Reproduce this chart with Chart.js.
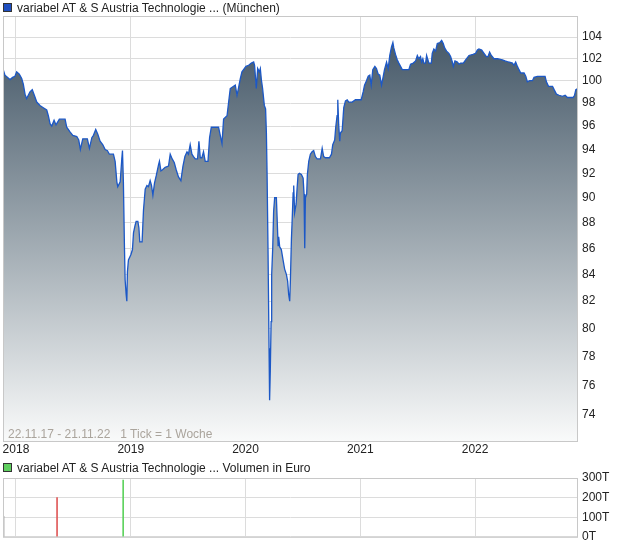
<!DOCTYPE html>
<html><head><meta charset="utf-8">
<script src="https://cdn.jsdelivr.net/npm/chart.js@4/dist/chart.umd.min.js"></script>
<style>
body{margin:0;background:#fff;width:620px;height:546px;overflow:hidden;font-family:"Liberation Sans",Arial,sans-serif;}
#wrap{position:relative;width:620px;height:546px;overflow:hidden;}
canvas{position:absolute;left:0;}
#c1{top:0;}
#c2{top:460px;}
.leg{position:absolute;left:3px;font-size:12px;color:#222;line-height:14px;white-space:nowrap;z-index:2;}
.leg i{display:inline-block;width:7px;height:7px;border:1px solid #333;margin-right:5px;vertical-align:0px;}
#info{position:absolute;left:8px;top:427px;font-size:12px;color:#aaa49c;white-space:nowrap;z-index:2;}
</style></head>
<body><div id="wrap">
<canvas id="c1" width="620" height="460"></canvas>
<canvas id="c2" width="620" height="88"></canvas>
<div class="leg" style="top:1px;"><i style="background:#1f4fc0"></i>variabel AT &amp; S Austria Technologie ... (München)</div>
<div id="info">22.11.17 - 21.11.22&nbsp;&nbsp;&nbsp;1 Tick = 1 Woche</div>
<div class="leg" style="top:461px;"><i style="background:#5fcf5f"></i>variabel AT &amp; S Austria Technologie ... Volumen in Euro</div>
</div>
<script>
// decimal years
const dates = [2017.889,2017.904,2017.948,2017.971,2017.991,2018.006,2018.029,2018.050,2018.064,2018.079,2018.093,2018.107,2018.122,2018.142,2018.160,2018.181,2018.209,2018.238,2018.268,2018.282,2018.297,2018.312,2018.332,2018.349,2018.378,2018.428,2018.442,2018.471,2018.495,2018.530,2018.547,2018.561,2018.582,2018.622,2018.640,2018.661,2018.675,2018.695,2018.713,2018.733,2018.757,2018.777,2018.797,2018.814,2018.849,2018.864,2018.879,2018.887,2018.908,2018.922,2018.928,2018.936,2018.945,2018.951,2018.960,2018.966,2018.971,2018.980,2019.001,2019.015,2019.024,2019.038,2019.047,2019.062,2019.071,2019.079,2019.099,2019.111,2019.126,2019.141,2019.154,2019.169,2019.181,2019.193,2019.207,2019.222,2019.242,2019.250,2019.263,2019.277,2019.300,2019.329,2019.344,2019.361,2019.379,2019.396,2019.416,2019.437,2019.455,2019.472,2019.490,2019.503,2019.518,2019.533,2019.547,2019.562,2019.582,2019.594,2019.606,2019.620,2019.634,2019.649,2019.673,2019.687,2019.702,2019.765,2019.780,2019.795,2019.809,2019.839,2019.853,2019.867,2019.896,2019.911,2019.926,2019.940,2019.955,2019.969,2019.983,2020.004,2020.027,2020.051,2020.071,2020.079,2020.094,2020.106,2020.120,2020.129,2020.138,2020.149,2020.164,2020.175,2020.182,2020.188,2020.196,2020.205,2020.210,2020.216,2020.223,2020.228,2020.237,2020.245,2020.254,2020.269,2020.275,2020.284,2020.289,2020.298,2020.312,2020.327,2020.341,2020.356,2020.367,2020.376,2020.385,2020.391,2020.400,2020.406,2020.415,2020.420,2020.428,2020.441,2020.449,2020.458,2020.469,2020.487,2020.502,2020.510,2020.516,2020.522,2020.533,2020.539,2020.551,2020.565,2020.580,2020.594,2020.609,2020.624,2020.653,2020.668,2020.681,2020.696,2020.731,2020.749,2020.760,2020.777,2020.786,2020.798,2020.804,2020.812,2020.821,2020.827,2020.842,2020.856,2020.871,2020.886,2020.900,2020.929,2020.958,2021.008,2021.025,2021.037,2021.054,2021.069,2021.083,2021.095,2021.109,2021.127,2021.141,2021.156,2021.170,2021.185,2021.200,2021.211,2021.229,2021.243,2021.257,2021.272,2021.284,2021.292,2021.307,2021.322,2021.336,2021.351,2021.366,2021.423,2021.438,2021.462,2021.482,2021.497,2021.510,2021.525,2021.534,2021.545,2021.554,2021.569,2021.578,2021.589,2021.598,2021.619,2021.627,2021.641,2021.656,2021.671,2021.694,2021.709,2021.723,2021.735,2021.752,2021.772,2021.787,2021.802,2021.811,2021.825,2021.846,2021.860,2021.874,2021.898,2021.918,2021.947,2021.982,2022.005,2022.020,2022.034,2022.058,2022.078,2022.099,2022.113,2022.127,2022.142,2022.165,2022.195,2022.238,2022.261,2022.291,2022.326,2022.339,2022.354,2022.369,2022.383,2022.398,2022.427,2022.442,2022.456,2022.476,2022.500,2022.514,2022.544,2022.610,2022.622,2022.640,2022.675,2022.689,2022.709,2022.732,2022.762,2022.785,2022.805,2022.854,2022.867,2022.878,2022.895];
const prices = [101.0,100.5,100.1,100.3,100.4,100.8,100.6,100.2,99.7,98.8,98.4,98.7,99.0,99.2,98.7,98.1,97.8,97.6,97.4,96.9,96.2,96.0,96.5,96.1,96.6,96.6,95.9,95.5,95.2,95.1,94.8,94.0,94.9,94.9,94.1,95.0,95.2,95.7,95.3,94.7,94.4,94.0,93.9,93.6,93.6,93.0,91.3,90.9,91.3,93.2,93.9,91.3,86.2,83.6,82.5,82.0,84.2,85.1,85.5,85.9,87.2,87.8,88.1,88.1,87.6,86.5,86.5,89.0,90.7,91.0,90.9,91.4,91.0,90.2,91.2,91.8,92.7,93.0,92.2,92.3,92.5,92.6,93.6,93.2,92.9,92.3,91.7,91.4,92.6,93.4,93.8,93.6,94.4,93.6,93.4,93.2,93.2,94.7,93.3,93.3,93.8,93.0,93.0,95.0,95.9,95.9,95.2,94.5,96.6,96.9,98.1,99.3,99.5,99.6,98.7,99.4,100.2,100.8,101.0,101.3,101.4,101.6,101.7,101.4,99.3,101.1,100.8,101.1,100.1,99.3,97.8,97.5,95.4,91.9,86.0,78.6,75.0,77.0,80.5,84.0,86.0,88.9,90.0,90.0,88.5,86.2,86.9,86.1,85.9,85.1,84.4,84.0,83.5,82.5,82.0,83.5,86.7,88.1,90.4,91.0,88.8,89.5,90.7,91.9,92.0,91.9,91.6,90.3,86.0,90.0,90.3,91.9,93.0,93.6,93.8,93.9,93.4,93.2,93.2,94.1,93.4,93.3,93.3,93.6,94.4,94.8,95.9,96.9,98.3,96.1,94.7,95.4,95.6,97.6,98.2,98.3,98.1,98.1,98.3,98.3,99.0,99.6,100.0,100.4,100.5,99.6,101.0,101.3,101.1,100.6,100.5,99.6,100.4,101.0,101.7,101.1,102.3,103.1,103.5,103.0,102.4,101.9,101.6,101.3,101.0,101.0,101.5,101.6,101.8,102.3,102.0,102.2,101.7,102.0,101.6,101.6,102.3,101.9,101.6,101.6,102.5,102.9,102.7,103.4,103.5,103.7,103.4,103.0,102.7,102.5,102.2,101.7,101.3,101.8,101.7,101.5,101.6,101.6,101.9,102.3,102.4,102.5,102.8,102.9,102.8,102.5,102.2,102.2,102.6,102.3,102.0,102.0,101.9,101.8,101.7,101.6,101.4,101.7,101.3,101.0,100.7,100.7,100.4,99.9,100.0,100.0,100.3,100.4,100.4,99.9,99.5,99.5,99.2,98.8,98.7,98.6,98.7,98.5,98.5,98.7,99.2,99.3];
const priceTicks = [74,76,78,80,82,84,86,88,90,92,94,96,98,100,102,104];
const yearTicks = [2018,2019,2020,2021,2022];
const volDates = [2017.892,2018.358,2018.934];
const volumes = [105,200,290];           // thousand euro
const volColors = ['#a0a0a0','#e05a5a','#5fd35f'];
const volTicks = [0,100,200,300];

const X_MIN = 2017.887, X_MAX = 2022.897;
const GRID = '#dcdcdc', FRAME = '#c8c8c8';
const FONT = {family:'"Liberation Sans", Arial, sans-serif', size:12};

const frame = {id:'frame', afterDraw(c){const a=c.chartArea,x=c.ctx;x.save();x.strokeStyle=FRAME;x.lineWidth=1;x.strokeRect(a.left+0.5,a.top+0.5,a.right-a.left-1,a.bottom-a.top);x.restore();}};

new Chart(document.getElementById('c1'), {
  type:'line',
  data:{datasets:[{
    data: dates.map((d,i)=>({x:d,y:prices[i]})),
    borderColor:'#1c58c6', borderWidth:1.3, pointRadius:0, tension:0,
    fill:'start',
    backgroundColor:(ctx)=>{const a=ctx.chart.chartArea; if(!a) return '#7a8a95';
      const g=ctx.chart.ctx.createLinearGradient(0,a.top,0,a.bottom);
      g.addColorStop(0,'#44576a'); g.addColorStop(0.1,'#4f6170'); g.addColorStop(0.5,'#9aa5ad'); g.addColorStop(1,'#f9fafa'); return g;}
  }]},
  options:{
    responsive:false, animation:false, events:[],
    layout:{padding:{left:3,top:16,right:0,bottom:0}},
    plugins:{legend:{display:false},tooltip:{enabled:false}},
    scales:{
      x:{type:'linear',min:X_MIN,max:X_MAX,
        grid:{color:GRID,drawTicks:false},border:{display:false},
        afterBuildTicks:s=>{s.ticks=yearTicks.map(v=>({value:v}));},
        afterFit:s=>{s.height=19;},
        ticks:{autoSkip:false,maxRotation:0,padding:1,color:'#222',font:FONT,callback:v=>String(v)}},
      y:{type:'logarithmic',position:'right',min:72.3,max:106,
        grid:{color:GRID,drawTicks:false},border:{display:false},
        afterBuildTicks:s=>{s.ticks=priceTicks.map(v=>({value:v}));},
        afterFit:s=>{s.width=42;},
        ticks:{autoSkip:false,padding:4,color:'#222',font:FONT,callback:v=>String(v)}}
    }
  },
  plugins:[frame]
});

new Chart(document.getElementById('c2'), {
  type:'bar',
  data:{datasets:[{data: volDates.map((d,i)=>({x:d,y:volumes[i]})), backgroundColor:volColors, barThickness:1, grouped:false}]},
  options:{
    responsive:false, animation:false, events:[],
    layout:{padding:{left:3,top:18,right:0,bottom:0}},
    plugins:{legend:{display:false},tooltip:{enabled:false}},
    scales:{
      x:{type:'linear',min:X_MIN,max:X_MAX,offset:false,
        grid:{color:GRID,drawTicks:false,offset:false},border:{display:false},
        afterBuildTicks:s=>{s.ticks=yearTicks.map(v=>({value:v}));},
        afterFit:s=>{s.height=0;},
        ticks:{display:false}},
      y:{position:'right',min:0,max:300,
        grid:{color:GRID,drawTicks:false},border:{display:false},
        afterBuildTicks:s=>{s.ticks=volTicks.map(v=>({value:v}));},
        afterFit:s=>{s.width=42;},
        ticks:{autoSkip:false,padding:4,color:'#222',font:FONT,callback:v=>v+'T'}}
    }
  },
  plugins:[frame]
});
</script>
</body></html>
